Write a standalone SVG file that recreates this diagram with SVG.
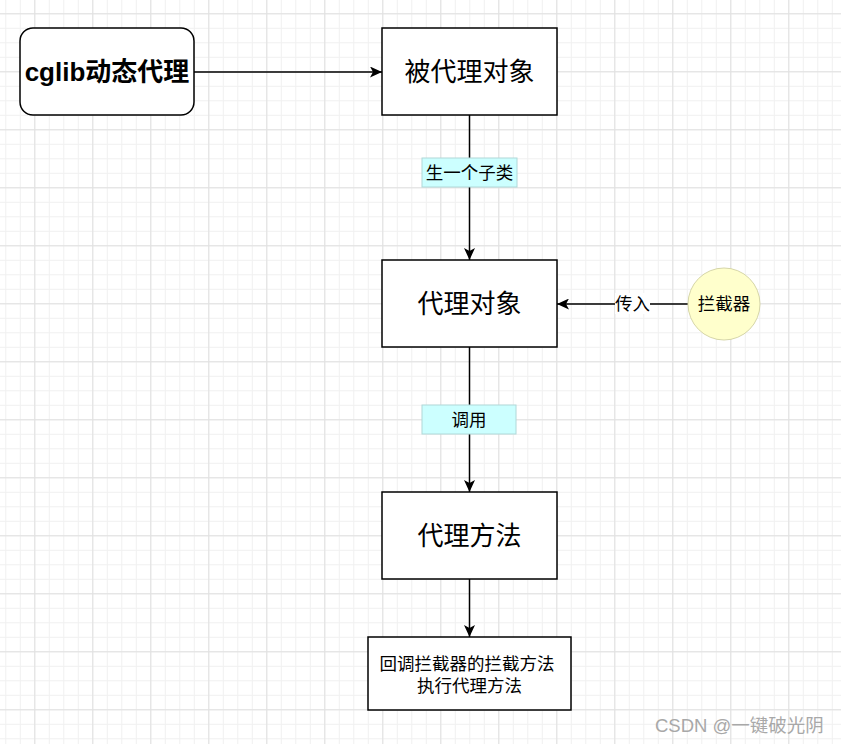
<svg xmlns="http://www.w3.org/2000/svg" width="841" height="744" viewBox="0 0 841 744">
<defs>
<pattern id="minor" patternUnits="userSpaceOnUse" x="5.3" y="-1.2" width="14.5" height="14.5">
<path d="M0 0.5H14.5M0.5 0V14.5" fill="none" stroke="#f0f0f0" stroke-width="1"/>
</pattern>
<pattern id="major" patternUnits="userSpaceOnUse" x="34.3" y="13.3" width="58" height="58">
<path d="M0 0.5H58M0.5 0V58" fill="none" stroke="#e0e0e0" stroke-width="1"/>
</pattern>
<marker id="arr" markerWidth="13" markerHeight="11" refX="12" refY="5.5" orient="auto" markerUnits="userSpaceOnUse">
<path d="M0 0L12 5.5L0 11L3 5.5Z" fill="#000"/>
</marker>
<style>
.box{fill:#fff;stroke:#000;stroke-width:1.5}
.big{font-family:"Liberation Sans","Noto Sans CJK SC",sans-serif;font-size:26px;text-anchor:middle;fill:#000}
.sm{font-family:"Liberation Sans","Noto Sans CJK SC",sans-serif;font-size:17.5px;text-anchor:middle;fill:#000}
.wm{font-family:"Liberation Sans","Noto Sans CJK SC",sans-serif;font-size:18.5px;fill:#a8a8a8}
.lab{fill:#ccffff;stroke:#b0d8d8;stroke-width:1}
.edge{fill:none;stroke:#000;stroke-width:1.5;marker-end:url(#arr)}
</style>
</defs>
<rect width="841" height="744" fill="#fff"/>
<rect width="841" height="744" fill="url(#minor)"/>
<rect width="841" height="744" fill="url(#major)"/>

<g id="connectors">
<path class="edge" d="M194 72H382"/>
<path class="edge" d="M469.5 115V260"/>
<path class="edge" d="M469.5 347V492"/>
<path class="edge" d="M469.5 579V637"/>
<path class="edge" d="M688 304H557"/>
<g id="label-subclass">
<rect class="lab" x="422" y="158" width="95" height="29"/>
<text class="sm" x="469.5" y="178.5">生一个子类</text>
</g>
<g id="label-call">
<rect class="lab" x="422" y="405" width="94" height="29"/>
<text class="sm" x="469" y="425.5">调用</text>
</g>
<g id="label-pass">
<rect x="615" y="293" width="35" height="21" fill="#fff"/>
<text class="sm" x="632.5" y="310">传入</text>
</g>
</g>

<g id="cglib">
<rect class="box" x="20" y="28" width="174" height="87" rx="13"/>
<text class="big" x="107" y="81" font-weight="bold">cglib动态代理</text>
</g>
<g id="target">
<rect class="box" x="382" y="28" width="175" height="87"/>
<text class="big" x="469.5" y="81">被代理对象</text>
</g>
<g id="proxy">
<rect class="box" x="382" y="260" width="175" height="87"/>
<text class="big" x="469.5" y="313">代理对象</text>
</g>
<g id="proxy-method">
<rect class="box" x="382" y="492" width="175" height="87"/>
<text class="big" x="469.5" y="545">代理方法</text>
</g>
<g id="callback">
<rect class="box" x="368" y="637" width="203" height="73"/>
<text class="sm" x="467" y="670">回调拦截器的拦截方法</text>
<text class="sm" x="469.5" y="692">执行代理方法</text>
</g>
<g id="interceptor">
<circle cx="724" cy="304" r="36" fill="#ffffcc" stroke="#d6d6a8" stroke-width="1"/>
<text class="sm" x="724" y="310">拦截器</text>
</g>
<text class="wm" x="655" y="732">CSDN @一键破光阴</text>
</svg>
